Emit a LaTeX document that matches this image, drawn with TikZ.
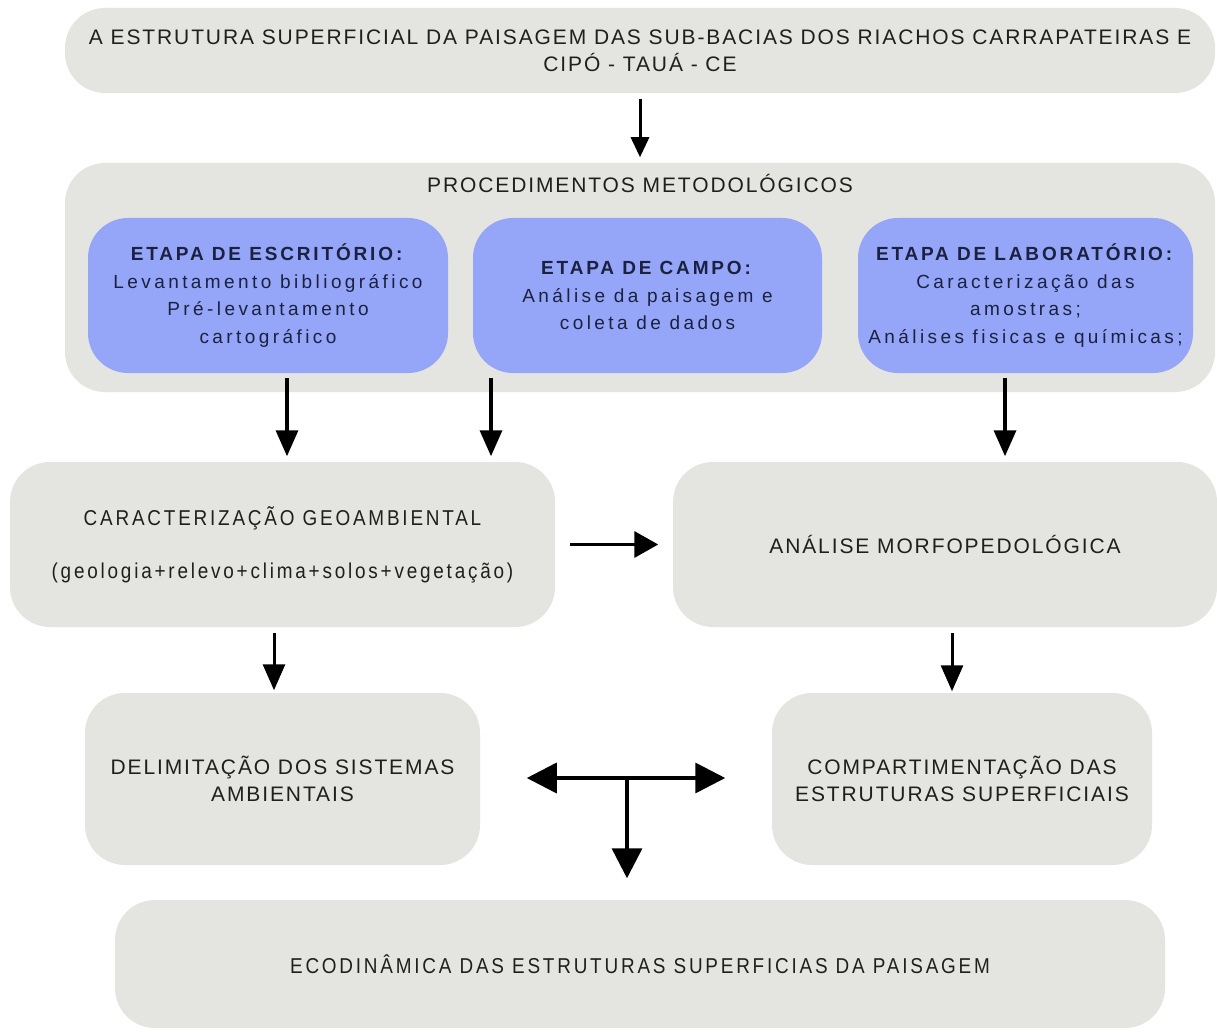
\documentclass[tikz,border=0pt]{standalone}
\usepackage{fontspec}
\setmainfont{Liberation Sans}
\newfontfamily\grafia{Liberation Sans}[LetterSpace=9]
\newfontfamily\estreita{Liberation Sans}[FakeStretch=0.88,LetterSpace=13]
\newfontfamily\etapafonte{Liberation Sans}[LetterSpace=18,BoldFeatures={LetterSpace=15}]
\usetikzlibrary{arrows.meta}
\definecolor{cinza}{HTML}{E4E4E0}
\definecolor{azul}{HTML}{95A5F7}
\definecolor{tinta}{HTML}{1B2140}

\begin{document}
\begin{tikzpicture}[x=1pt,y=-1pt,line width=3.5pt,>={Triangle[length=26pt,width=22pt]},
caixa/.style={fill=cinza,rounded corners=40pt,align=center,text=black!88,font=\grafia\fontsize{21}{27}\selectfont},
estreito/.style={caixa,font=\estreita\fontsize{21.5}{27}\selectfont},
etapa/.style={fill=azul,rounded corners=40pt,align=center,text=tinta,font=\etapafonte\fontsize{19}{27.5}\selectfont},
seta/.style={->,shorten <=4pt,shorten >=4pt},
big/.style={>={Triangle[length=30pt,width=30pt]}}]
\useasboundingbox[fill=white] (0,0) rectangle (1217,1032);
% caixas
\node[caixa,minimum width=1150pt,minimum height=85pt] (topo) at (640,50.5) {A ESTRUTURA SUPERFICIAL DA PAISAGEM DAS SUB-BACIAS DOS RIACHOS CARRAPATEIRAS E\\CIPÓ - TAUÁ - CE};
\node[caixa,minimum width=1150pt,minimum height=229pt] (proc) at (640,277.5) {};
\node[text=black!88,font=\grafia\fontsize{21}{27}\selectfont] (titulo) at (640,183) {PROCEDIMENTOS METODOLÓGICOS};
\node[etapa,minimum width=360pt,minimum height=155pt] (esc) at (268,295.5) {\textbf{ETAPA DE ESCRITÓRIO:}\\Levantamento bibliográfico\\Pré-levantamento\\cartográfico};
\node[etapa,minimum width=349pt,minimum height=155pt] (campo) at (647.5,295.5) {\textbf{ETAPA DE CAMPO:}\\Análise da paisagem e\\coleta de dados};
\node[etapa,minimum width=335pt,minimum height=155pt] (lab) at (1025.5,295.5) {\textbf{ETAPA DE LABORATÓRIO:}\\Caracterização das\\amostras;\\Análises fisicas e químicas;};
\node[estreito,minimum width=545pt,minimum height=165pt] (geo) at (282.5,544.5) {CARACTERIZAÇÃO GEOAMBIENTAL\\[26pt](geologia+relevo+clima+solos+vegetação)};
\node[caixa,minimum width=544pt,minimum height=165pt] (morfo) at (945,544.5) {ANÁLISE MORFOPEDOLÓGICA};
\node[caixa,minimum width=395pt,minimum height=172pt] (delim) at (282.5,779) {DELIMITAÇÃO DOS SISTEMAS\\AMBIENTAIS};
\node[caixa,minimum width=380pt,minimum height=172pt] (comp) at (962,779) {COMPARTIMENTAÇÃO DAS\\ESTRUTURAS SUPERFICIAIS};
\node[estreito,minimum width=1050pt,minimum height=128pt] (eco) at (640,964) {ECODINÂMICA DAS ESTRUTURAS SUPERFICIAS DA PAISAGEM};
% setas
\draw[seta,>={Triangle[length=20pt,width=18pt]},line width=3pt] (topo) -- (proc);
\draw[seta,shorten <=3pt] ([xshift=19pt]esc.south) -- ([xshift=4.5pt]geo.north);
\draw[seta,shorten <=3pt] ([xshift=-156.5pt]campo.south) -- ([xshift=208.5pt]geo.north);
\draw[seta,shorten <=3pt] ([xshift=-20.5pt]lab.south) -- ([xshift=60pt]morfo.north);
\draw[seta,>={Triangle[length=24pt,width=26pt]},shorten <=13pt,shorten >=13pt] (geo) -- (morfo);
\draw[seta,line width=3pt,shorten >=1pt] ([xshift=-8.5pt]geo.south) -- ([xshift=-8.5pt]delim.north);
\draw[seta,line width=3pt,shorten >=0pt] ([xshift=7pt]morfo.south) -- ([xshift=-10pt]comp.north);
\coordinate (tj) at (627,778);
\draw[big,<->,shorten <=45pt,shorten >=45pt] (delim.east |- tj) -- (comp.west |- tj);
\draw[big,->,shorten >=20pt] (tj) -- (tj |- eco.north);
\end{tikzpicture}
\end{document}
